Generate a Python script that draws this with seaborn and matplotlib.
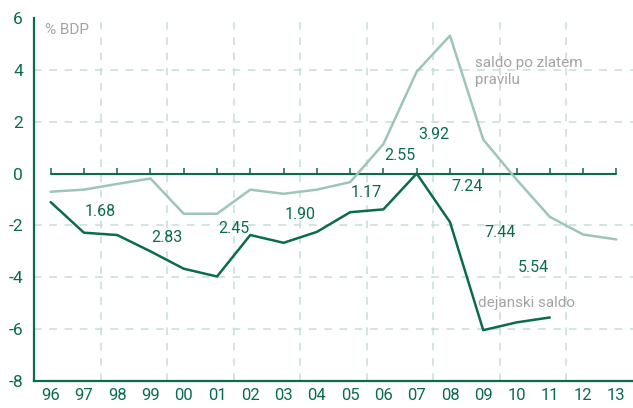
import numpy as np
import pandas as pd
import seaborn as sns
import matplotlib.pyplot as plt
from matplotlib.ticker import FixedLocator, FuncFormatter

years = ["96", "97", "98", "99", "00", "01", "02", "03", "04",
         "05", "06", "07", "08", "09", "10", "11", "12", "13"]

# saldo po zlatem pravilu
golden = [-0.70, -0.62, -0.40, -0.19, -1.55, -1.55, -0.62, -0.78, -0.62,
          -0.33, 1.14, 3.93, 5.32, 1.31, -0.23, -1.67, -2.35, -2.54]
# dejanski saldo
actual = [-1.10, -2.28, -2.37, -3.00, -3.67, -3.97, -2.37, -2.67, -2.25,
          -1.49, -1.38, 0.00, -1.87, -6.04, -5.74, -5.55, np.nan, np.nan]

gap_labels = ["1.68", "2.83", "2.45", "1.90", "1.17", "2.55", "3.92", "7.24", "7.44", "5.54"]
gap_x = [1.5, 3.5, 5.5, 7.5, 9.5, 10.5, 11.5, 12.5, 13.5, 14.5]
gap_y = [-1.46, -2.45, -2.12, -1.58, -0.72, 0.70, 1.50, -0.49, -2.28, -3.63]

df = pd.DataFrame({"x": np.arange(len(years)), "golden": golden,
                   "actual": actual, "zero": 0.0})

dark = "#0b6b4f"
light = "#9dc6b6"
gridc = "#c8ded6"
grey = "#a3a3a3"

sns.set_style("white")
plt.rcParams["font.family"] = ["Roboto", "DejaVu Sans"]

fig = plt.figure(figsize=(6.33, 4.08), dpi=100)
ax = fig.add_axes([34 / 633, 27 / 408, 1 - 34 / 633, 363 / 408])

# grid
for gx in np.arange(1.5, 16, 2):
    ax.axvline(gx, color=gridc, lw=1.1, ls=(0, (5, 5)), zorder=0)
for gy in [-6, -4, -2, 2, 4]:
    ax.axhline(gy, color=gridc, lw=1.1, ls=(0, (5, 5)), zorder=0)

sns.lineplot(data=df, x="x", y="zero", ax=ax, color=dark, lw=1.5,
             marker=2, markersize=4.5, markeredgewidth=1.1, markeredgecolor=dark)
sns.lineplot(data=df, x="x", y="golden", ax=ax, color=light, lw=1.8)
sns.lineplot(data=df.dropna(), x="x", y="actual", ax=ax, color=dark, lw=1.8)

for t, x, y in zip(gap_labels, gap_x, gap_y):
    ax.text(x, y, t, color=dark, fontsize=11.5, ha="center", va="center")

ax.text(-0.17, 5.55, "% BDP", color=grey, fontsize=11, ha="left", va="center")
ax.text(12.75, 3.95, "saldo po zlatem\npravilu", color=grey, fontsize=11,
        ha="left", va="center", linespacing=1.3)
ax.text(12.85, -5.0, "dejanski saldo", color=grey, fontsize=11, ha="left", va="center")

ax.set_xlim(-0.5, 17.5)
ax.set_ylim(-8, 6)
ax.set_xlabel("")
ax.set_ylabel("")

ax.xaxis.set_major_locator(FixedLocator(np.arange(len(years))))
ax.set_xticklabels(years)
ax.xaxis.set_minor_locator(FixedLocator(np.arange(0.5, 17, 1)))
ax.tick_params(axis="x", which="major", length=0, pad=5, labelsize=12, labelcolor=dark)
ax.tick_params(axis="x", which="minor", length=6, width=1.2, color=dark, direction="out")
ax.set_yticks([-8, -6, -4, -2, 0, 2, 4, 6])
ax.yaxis.set_major_formatter(FuncFormatter(lambda v, p: f"{int(v)}".replace("\u2212", "-")))
ax.tick_params(axis="y", length=5, width=1.2, color=dark, labelsize=12.5,
               labelcolor=dark, pad=3, direction="out")

for s in ["top", "right"]:
    ax.spines[s].set_visible(False)
for s in ["left", "bottom"]:
    ax.spines[s].set_color(dark)
    ax.spines[s].set_linewidth(1.6)
ax.spines["bottom"].set_bounds(-0.5, 17.6)

fig.savefig("out.png", dpi=100)
